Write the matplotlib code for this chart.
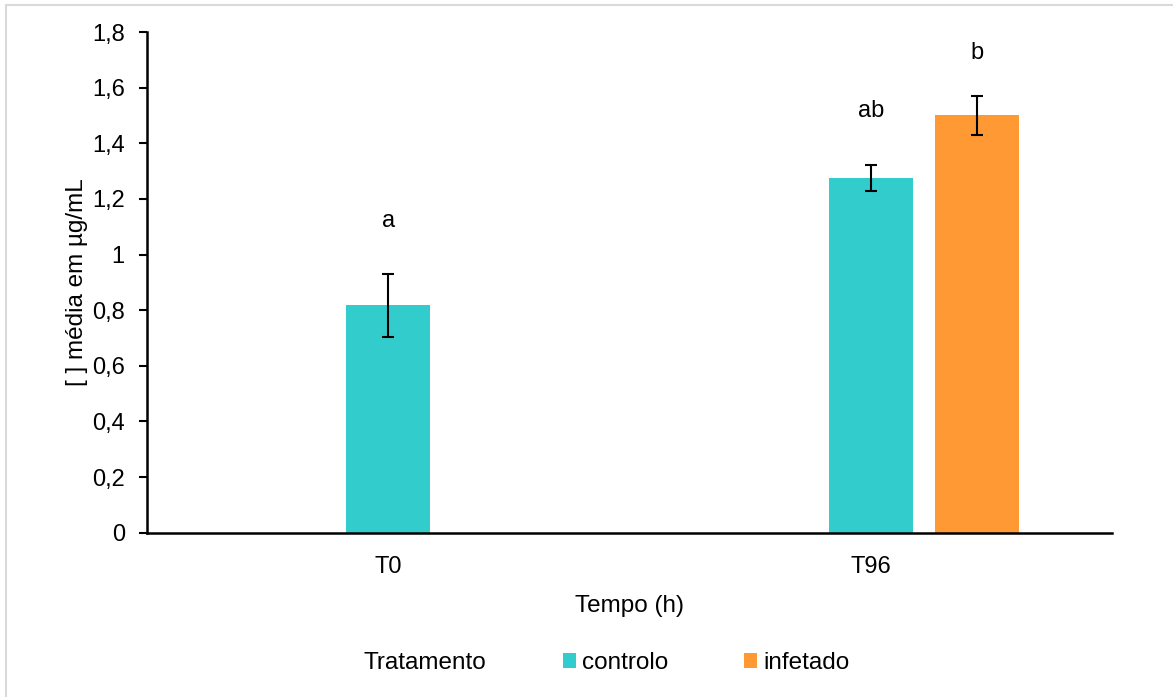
import matplotlib.pyplot as plt
from matplotlib.patches import Rectangle
from matplotlib.ticker import FuncFormatter

plt.rcParams['font.family'] = ['Liberation Sans', 'DejaVu Sans']

# dados
tempos = ["T0", "T96"]
controlo = [0.817, 1.274]
controlo_err = [0.112, 0.047]
infetado_tempos = ["T96"]
infetado = [1.501]
infetado_err = [0.07]
letras = [("T0", 0.0, 0.817 + 0.112 + 0.19, "a"),
          ("T96", 0.0, 1.274 + 0.047 + 0.195, "ab"),
          ("T96", 0.22, 1.501 + 0.07 + 0.155, "b")]

cor_controlo = "#33CCCC"
cor_infetado = "#FF9933"
largura = 0.174
desvio = 0.22

fig = plt.figure(figsize=(11.73, 6.97), dpi=100)
ax = fig.add_axes([147 / 1173, 1 - 532.7 / 697, 965 / 1173, 500.7 / 697])

x = {t: i for i, t in enumerate(tempos)}
ekw = dict(elinewidth=1.5, capthick=1.5, capsize=4.5, ecolor="black")
ax.bar([x[t] for t in tempos], controlo, largura, yerr=controlo_err,
       color=cor_controlo, label="controlo", error_kw=ekw)
ax.bar([x[t] + desvio for t in infetado_tempos], infetado, largura, yerr=infetado_err,
       color=cor_infetado, label="infetado", error_kw=ekw)

for t, d, y, s in letras:
    ax.text(x[t] + d, y, s, ha="center", va="center", fontsize=17)

ax.set_xlim(-0.5, 1.5)
ax.set_ylim(0, 1.8)
ax.set_yticks([0, 0.2, 0.4, 0.6, 0.8, 1.0, 1.2, 1.4, 1.6, 1.8])
ax.yaxis.set_major_formatter(FuncFormatter(lambda v, p: ("%g" % round(v, 1)).replace(".", ",")))
ax.set_xticks(range(len(tempos)))
ax.set_xticklabels(tempos)
ax.tick_params(axis="y", length=6, width=1.5, labelsize=17, pad=10)
ax.tick_params(axis="x", length=0, labelsize=17, pad=17)
for s in ["top", "right"]:
    ax.spines[s].set_visible(False)
for s in ["left", "bottom"]:
    ax.spines[s].set_linewidth(1.8)

ax.set_xlabel("Tempo (h)", fontsize=17.5, labelpad=12)
ax.set_ylabel("[ ] média em µg/mL", fontsize=17.5, labelpad=3)

fig.text(363 / 1173, 1 - 663 / 697, "Tratamento", fontsize=17.5, va="center")
fig.legend(loc="center left", bbox_to_anchor=(541 / 1173, 1 - 663 / 697), ncol=2,
           frameon=False, fontsize=17.5, handlelength=0.55, handleheight=0.55,
           handletextpad=0.25, columnspacing=3.1)

fig.patches.append(Rectangle((6 / 1173, -0.1), 1.2, 1.1 - 5 / 697, transform=fig.transFigure,
                             fill=False, edgecolor="#d9d9d9", linewidth=1.5))

fig.savefig("out.png", dpi=100)
